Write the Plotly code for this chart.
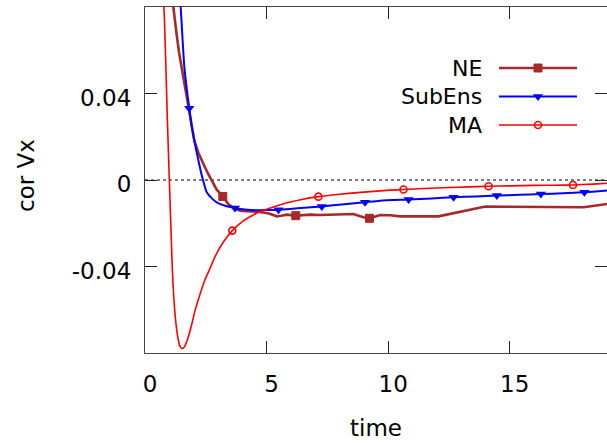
import plotly.graph_objects as go

# ---------------- data ----------------
ne_t = [1.08,1.16,1.30,1.40,1.51,1.65,1.78,1.90,2.03,2.20,2.35,2.47,2.60,2.74,2.95,3.20,3.43,3.65,3.91,4.18,4.45,4.73,5.10,5.42,5.60,5.83,6.20,6.50,6.79,7.20,7.75,8.20,8.57,8.98,9.23,9.45,9.67,10.08,10.50,12.07,14.00,18.04,19.00]
ne_v = [0.088,0.0796,0.0674,0.059,0.052,0.042,0.0335,0.0255,0.0181,0.0125,0.0085,0.0058,0.0028,-0.0003,-0.0045,-0.0076,-0.0112,-0.0130,-0.0142,-0.0144,-0.0145,-0.0148,-0.0155,-0.0168,-0.0165,-0.0160,-0.0165,-0.0162,-0.0160,-0.0162,-0.0160,-0.0159,-0.0157,-0.0172,-0.0177,-0.0170,-0.0162,-0.0163,-0.0168,-0.0168,-0.0123,-0.0126,-0.0111]
ne_marks = [3.20, 6.20, 9.23]

se_t = [1.40,1.47,1.55,1.62,1.72,1.82,1.92,2.03,2.15,2.26,2.35,2.54,2.75,2.95,3.30,3.70,4.10,4.60,5.00,5.49,6.40,7.27,8.20,9.05,9.67,10.84,11.80,12.69,13.60,14.47,15.40,16.28,17.20,18.07,19.00]
se_v = [0.092,0.0796,0.064,0.052,0.042,0.0332,0.025,0.0181,0.0115,0.0058,0.0015,-0.0057,-0.0085,-0.0103,-0.0119,-0.0129,-0.0136,-0.0140,-0.0139,-0.0137,-0.0130,-0.0122,-0.0112,-0.0103,-0.0096,-0.0090,-0.0085,-0.0080,-0.0076,-0.0072,-0.0068,-0.0065,-0.0061,-0.0057,-0.0049]
se_marks = [1.82, 3.70, 5.49, 7.27, 9.05, 10.84, 12.69, 14.47, 16.28, 18.07]

ma_t = [0.74,0.80,0.86,0.92,1.00,1.06,1.12,1.18,1.26,1.34,1.42,1.52,1.62,1.70,1.78,1.92,2.06,2.26,2.47,2.68,2.88,3.21,3.59,4.03,4.53,4.94,5.40,5.80,6.40,7.13,8.00,9.00,10.08,10.63,11.50,12.50,13.30,14.13,15.00,16.00,16.80,17.60,18.44,19.00]
ma_v = [0.090,0.074,0.052,0.028,0.0,-0.020,-0.040,-0.054,-0.065,-0.072,-0.0765,-0.078,-0.0772,-0.0752,-0.0726,-0.0668,-0.0603,-0.0529,-0.0460,-0.0407,-0.0354,-0.0289,-0.0234,-0.0190,-0.0157,-0.0138,-0.0120,-0.0106,-0.0091,-0.0077,-0.0066,-0.0056,-0.0047,-0.0044,-0.0039,-0.0035,-0.0032,-0.0029,-0.0027,-0.0025,-0.0024,-0.0023,-0.0019,-0.0015]
ma_marks = [3.59, 7.13, 10.63, 14.13, 17.60]

x_ticks = [0, 5, 10, 15]
x_tick_labels = ["0", "5", "10", "15"]
y_ticks = [-0.04, 0, 0.04]
y_tick_labels = ["-0.04", "0", "0.04"]

series_names = ["NE", "SubEns", "MA"]

# ---------------- style ----------------
FONT = "DejaVu Sans"
FS = 23
FS_KEY = 22
C_NE = "#a52a2a"
C_SE = "#0000ff"
C_MA = "#ff0000"

W, H = 607, 443
ML, MR, MT, MB = 145, 0, 7, 90
PW, PH = W - ML - MR, H - MT - MB


def px_x(p):
    return (p - ML) / PW


def px_y(p):
    return (H - MB - p) / PH


def subset(t, v, marks):
    idx = [t.index(m) for m in marks]
    return [t[i] for i in idx], [v[i] for i in idx]


specs = [
    (ne_t, ne_v, ne_marks, C_NE, 2.6, "linear", 0.0,
     dict(symbol="square", size=8, color=C_NE, line=dict(color=C_NE, width=1))),
    (se_t, se_v, se_marks, C_SE, 2.0, "spline", 0.6,
     dict(symbol="triangle-down", size=9, color=C_SE, line=dict(width=0))),
    (ma_t, ma_v, ma_marks, C_MA, 1.6, "spline", 0.5,
     dict(symbol="circle-open", size=7, color=C_MA, line=dict(color=C_MA, width=1.6))),
]

fig = go.Figure()
for (t, v, marks, col, lw, shape, sm, mk), name in zip(specs, series_names):
    line = dict(color=col, width=lw, shape=shape)
    if shape == "spline":
        line["smoothing"] = sm
    fig.add_trace(go.Scatter(x=t, y=v, mode="lines", name=name, showlegend=False, line=line))
    mx, my = subset(t, v, marks)
    fig.add_trace(go.Scatter(x=mx, y=my, mode="markers", showlegend=False,
                             marker=mk, cliponaxis=True))

# gnuplot-like key: text on the left, sample on the right
rows = [3, 2, 1]
for (t, v, marks, col, lw, shape, sm, mk), name, r in zip(specs, series_names, rows):
    fig.add_trace(go.Scatter(x=[0, 1], y=[r, r], mode="lines", xaxis="x2", yaxis="y2",
                             showlegend=False, line=dict(color=col, width=lw),
                             hoverinfo="skip"))
    fig.add_trace(go.Scatter(x=[0.5], y=[r], mode="markers", xaxis="x2", yaxis="y2",
                             showlegend=False, marker=mk, hoverinfo="skip"))
    fig.add_annotation(text=name, xref="paper", yref="y2", x=px_x(484), y=r,
                       xanchor="right", yanchor="middle", showarrow=False,
                       font=dict(family=FONT, size=FS_KEY, color="black"))

axis_common = dict(showgrid=False, zeroline=False, showline=True, mirror="ticks",
                   linecolor="#444", linewidth=1.2, ticks="inside", ticklen=12,
                   tickcolor="#222", tickwidth=1.2,
                   tickfont=dict(family=FONT, size=FS, color="black"))

fig.update_layout(
    width=W, height=H,
    margin=dict(l=ML, r=MR, t=MT, b=MB),
    paper_bgcolor="white", plot_bgcolor="white",
    showlegend=False,
    xaxis=dict(range=[0, 19], tickvals=x_ticks, ticktext=x_tick_labels,
               ticklabelstandoff=10, ticklabelshift=5, **axis_common),
    yaxis=dict(range=[-0.08, 0.08], tickvals=y_ticks, ticktext=y_tick_labels,
               ticklabelstandoff=8, ticklabelshift=4, **axis_common),
    xaxis2=dict(domain=[px_x(499), px_x(577)], range=[0, 1], visible=False,
                anchor="y2", fixedrange=True),
    yaxis2=dict(domain=[px_y(139.25), px_y(53.75)], range=[0.5, 3.5], visible=False,
                anchor="x2", fixedrange=True),
    shapes=[dict(type="line", xref="paper", yref="y", x0=0, x1=1, y0=0, y1=0,
                 line=dict(color="black", width=1, dash="dot"), layer="below")],
)

fig.add_annotation(text="time", xref="paper", yref="paper", x=px_x(376), y=px_y(428),
                   xanchor="center", yanchor="middle", showarrow=False,
                   font=dict(family=FONT, size=FS, color="black"))
fig.add_annotation(text="cor Vx", xref="paper", yref="paper", x=px_x(26), y=px_y(176),
                   xanchor="center", yanchor="middle", showarrow=False, textangle=-90,
                   font=dict(family=FONT, size=FS, color="black"))

fig.write_html("out.html", config={"displayModeBar": False},
               post_script="document.body.style.margin='0px';document.body.style.padding='0px';")
